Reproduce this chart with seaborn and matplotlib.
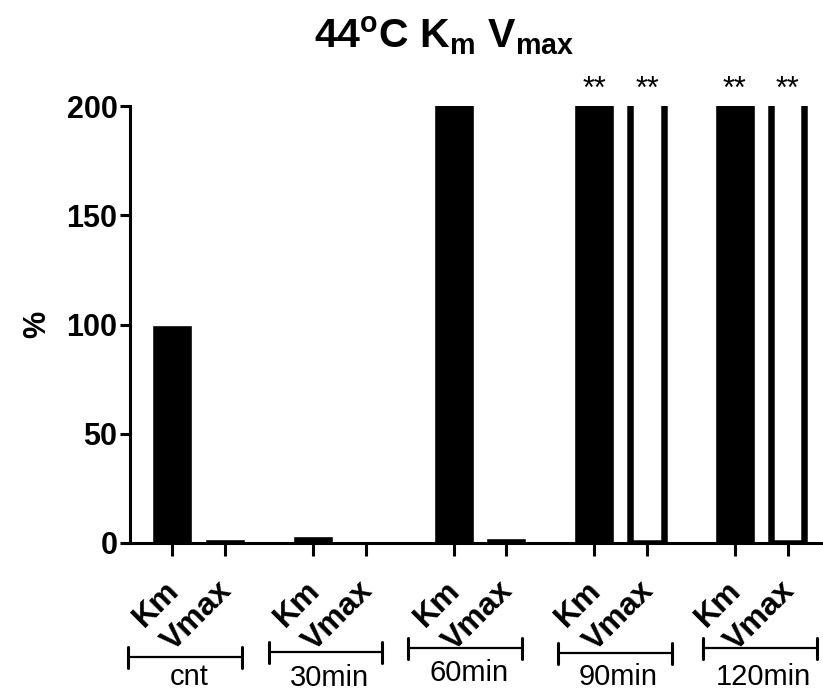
import matplotlib
matplotlib.use("Agg")
import matplotlib.pyplot as plt
import matplotlib.transforms as mtransforms
import seaborn as sns
import pandas as pd

# values (%); bars above 200 are clipped by the axis
times = ["cnt", "30min", "60min", "90min", "120min"]
params = ["Km", "Vmax"]
km_values = [100, 3, 250, 250, 250]
vmax_values = [2, 0, 2.5, 250, 250]
star_labels = ["", "", "", "**", "**"]
open_vmax = [False, False, False, True, True]

sns.set_style("ticks")
plt.rcParams["font.family"] = ["Liberation Sans", "DejaVu Sans"]
plt.rcParams["text.color"] = "black"
plt.rcParams["axes.labelcolor"] = "black"
plt.rcParams["xtick.color"] = "black"
plt.rcParams["ytick.color"] = "black"
plt.rcParams["axes.edgecolor"] = "black"
plt.rcParams["mathtext.fontset"] = "custom"
plt.rcParams["mathtext.rm"] = "Liberation Sans:bold"
plt.rcParams["mathtext.it"] = "Liberation Sans:bold"
plt.rcParams["mathtext.bf"] = "Liberation Sans:bold"

df = pd.DataFrame({
    "time": times * 2,
    "param": ["Km"] * len(times) + ["Vmax"] * len(times),
    "value": km_values + vmax_values,
})

W, H = 823, 693
fig = plt.figure(figsize=(W / 100, H / 100), dpi=100)
ax = fig.add_axes([130 / W, 1 - 543 / H, 1 - 130 / W, (543 - 106) / H])

sns.barplot(data=df, x="time", y="value", hue="param", order=times,
            hue_order=params, palette=["black", "black"], saturation=1,
            width=0.753, gap=0.245, errorbar=None, legend=False, ax=ax)

ax.set_ylim(0, 200)
ax.set_xlim(-0.49, 4.44)
px = 140.75  # pixels per x unit

# open (outlined) bars for off-scale Vmax
lw_px = 6.5
for bar, is_open in zip(ax.containers[1], open_vmax):
    if is_open:
        d = lw_px / px
        bar.set_x(bar.get_x() + d / 2)
        bar.set_width(bar.get_width() - d)
        bar.set_facecolor("white")
        bar.set_edgecolor("black")
        bar.set_linewidth(lw_px * 0.72)

# ticks at the bar centres
centres = []
for km_bar, vm_bar in zip(ax.containers[0], ax.containers[1]):
    centres.append(km_bar.get_x() + km_bar.get_width() / 2)
    centres.append(vm_bar.get_x() + vm_bar.get_width() / 2)
ax.set_xticks(centres)
ax.set_yticks([0, 50, 100, 150, 200])
ax.tick_params(axis="y", length=7, width=2.2, labelsize=22, pad=2)
ax.tick_params(axis="x", length=9, width=2.2, labelbottom=False)
for lab in ax.get_yticklabels():
    lab.set_fontweight("bold")

# rotated Km / Vmax labels
lab_tr = mtransforms.blended_transform_factory(ax.transData, ax.transAxes) + \
    mtransforms.ScaledTranslation(0.08, -0.49, fig.dpi_scale_trans)
for c, name in zip(centres, params * len(times)):
    ax.text(c, 0, name, transform=lab_tr, rotation=45, rotation_mode="anchor",
            ha="right", va="baseline", fontsize=23, fontweight="bold",
            clip_on=False)

sns.despine(ax=ax)
ax.spines["left"].set_linewidth(2.2)
ax.spines["bottom"].set_linewidth(2.2)
ax.set_xlabel("")
ax.set_ylabel("%", fontsize=22, fontweight="bold")
ax.yaxis.set_label_coords(-0.112, 0.5)

# significance stars
for i, s in enumerate(star_labels):
    if s:
        for j in range(2):
            ax.text(centres[2 * i + j], 200.5, s, ha="center", va="bottom",
                    fontsize=22, clip_on=False)

# group brackets under the tick labels
bracket_shift_px = [-13.5, -14, -15, -6, -1.5]
bracket_y_px = [657, 652, 648, 653, 648]
label_y_px = [677, 678, 673, 677, 677]
half = 57 / px
cap = 10.5 / H
tr = mtransforms.blended_transform_factory(ax.transData, fig.transFigure)
for i, t in enumerate(times):
    xc = (centres[2 * i] + centres[2 * i + 1]) / 2 + bracket_shift_px[i] / px
    yb = 1 - bracket_y_px[i] / H
    ax.plot([xc - half, xc + half], [yb, yb], color="black", lw=1.6,
            transform=tr, clip_on=False)
    for xe in (xc - half, xc + half):
        ax.plot([xe, xe], [yb - cap, yb + cap], color="black", lw=2.2,
                transform=tr, clip_on=False)
    ax.text(xc + 4 / px, 1 - label_y_px[i] / H, t, transform=tr,
            ha="center", va="center", fontsize=21)

fig.text(444 / W, 1 - 48 / H, r"44$^{\rm o}$C K$_{\rm m}$ V$_{\rm max}$",
         ha="center", va="baseline", fontsize=29.5, fontweight="bold")

fig.savefig("out.png", dpi=100)
